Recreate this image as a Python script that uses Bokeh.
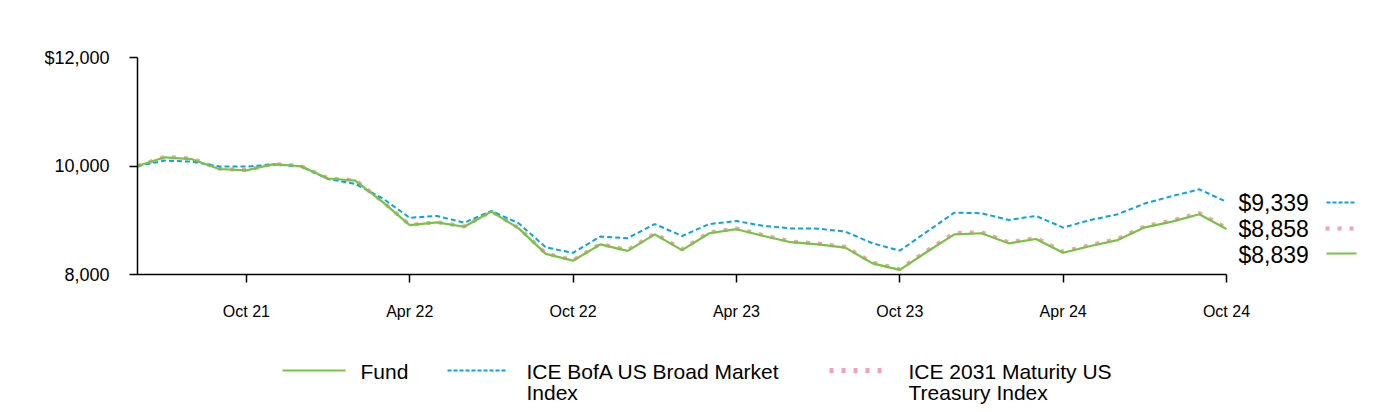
from bokeh.plotting import figure
from bokeh.layouts import column
from bokeh.models import Range1d, FixedTicker
from bokeh.core.properties import value
from bokeh.embed import file_html
from bokeh.resources import INLINE

# ---- data (Jun 2021 .. Oct 2024, monthly, growth of $10,000) ----
months = list(range(41))
fund = [10000, 10160, 10125, 9945, 9920, 10035, 9995, 9770, 9730, 9340, 8910,
        8960, 8880, 9160, 8850, 8380, 8255, 8555, 8435, 8740, 8450, 8760,
        8835, 8710, 8595, 8555, 8495, 8205, 8085, 8420, 8740, 8760, 8575,
        8655, 8400, 8525, 8635, 8870, 8975, 9110, 8839]
broad = [10000, 10100, 10080, 9990, 9990, 10025, 9995, 9760, 9670, 9405, 9045,
         9080, 8955, 9170, 8945, 8500, 8400, 8700, 8670, 8930, 8710, 8930,
         8985, 8895, 8850, 8845, 8790, 8575, 8440, 8790, 9140, 9130, 9005,
         9080, 8865, 9005, 9110, 9310, 9445, 9570, 9339]
treas = [10000, 10170, 10135, 9950, 9925, 10040, 10000, 9775, 9740, 9345, 8915,
         8965, 8885, 9165, 8860, 8390, 8265, 8565, 8450, 8755, 8465, 8775,
         8850, 8725, 8610, 8570, 8510, 8220, 8100, 8440, 8765, 8780, 8595,
         8675, 8420, 8545, 8655, 8890, 8995, 9135, 8858]
x_ticks = [4, 10, 16, 22, 28, 34, 40]
x_tick_labels = ["Oct 21", "Apr 22", "Oct 22", "Apr 23", "Oct 23", "Apr 24", "Oct 24"]
y_ticks = [8000, 10000, 12000]
y_tick_labels = ["8,000", "10,000", "$12,000"]
series_names = ["Fund", "ICE BofA US Broad Market\nIndex", "ICE 2031 Maturity US\nTreasury Index"]
end_labels = ["$9,339", "$8,858", "$8,839"]

GREEN = "#76C442"
BLUE = "#0AA4E0"
PINK = "#F6A0B4"
FONT = "Liberation Sans"

W = 1380
H1, H2 = 340, 64
BL, BT = 137, 57
FH = 217
AXIS_W = 1089            # pixel length of the 40-month axis
XMAX = 40 * (W - BL) / AXIS_W

p = figure(width=W, height=H1, output_backend="svg", toolbar_location=None,
           x_range=Range1d(0, XMAX), y_range=Range1d(8000, 12000),
           min_border_left=BL, min_border_right=0, min_border_top=BT,
           min_border_bottom=H1 - BT - FH)
p.outline_line_color = None
p.xgrid.visible = False
p.ygrid.visible = False

for ax in (p.xaxis[0], p.yaxis[0]):
    ax.axis_line_color = "black"
    ax.axis_line_width = 1.5
    ax.major_tick_line_color = "black"
    ax.major_tick_line_width = 1.5
    ax.major_tick_in = 0
    ax.major_tick_out = 8
    ax.minor_tick_line_color = None
    ax.major_label_text_font = FONT
    ax.major_label_text_color = "black"
    ax.major_label_standoff = 20

p.xaxis[0].bounds = (0, 40)
p.xaxis[0].ticker = FixedTicker(ticks=x_ticks)
p.xaxis[0].major_label_overrides = {t: l for t, l in zip(x_ticks, x_tick_labels)}
p.xaxis[0].major_label_text_font_size = "16px"
p.yaxis[0].ticker = FixedTicker(ticks=y_ticks)
p.yaxis[0].major_label_overrides = {t: l for t, l in zip(y_ticks, y_tick_labels)}
p.yaxis[0].major_label_text_font_size = "18px"

p.line(months, treas, line_color=PINK, line_width=4, line_dash="4 8")
p.line(months, broad, line_color=BLUE, line_width=2, line_dash="5 3")
p.line(months, fund, line_color=GREEN, line_width=2.2)

# canvas pixel -> data coords (placement of end labels in the right margin)
def dx(px):
    return (px - BL) / AXIS_W * 40

def dy(py):
    return 12000 - (py - BT) / FH * 4000

end_y = [202, 228, 254]
p.text(x=[dx(1238)] * 3, y=[dy(v) for v in end_y], text=end_labels,
       text_font=value(FONT), text_font_size="23px", text_align="left",
       text_baseline="middle", text_color="black")
p.line([dx(1326), dx(1356)], [dy(202)] * 2, line_color=BLUE, line_width=2, line_dash="4 2")
p.line([dx(1325), dx(1356)], [dy(228)] * 2, line_color=PINK, line_width=4, line_dash="4 8")
p.line([dx(1326), dx(1356)], [dy(253)] * 2, line_color=GREEN, line_width=2)

# ---- legend strip below (canvas pixel coordinates, y downward) ----
# column() aligns the frames, so give this strip the same left border
lg = figure(width=W, height=H2, output_backend="svg", toolbar_location=None,
            x_range=Range1d(BL, W), y_range=Range1d(H2, 0),
            x_axis_type=None, y_axis_type=None,
            min_border_left=BL, min_border_right=0, min_border_top=0, min_border_bottom=0)
lg.outline_line_color = None
lg.xgrid.visible = False
lg.ygrid.visible = False

r1 = 370 - H1
r2 = 392 - H1
lg.line([282, 345], [r1, r1], line_color=GREEN, line_width=2.2)
lg.line([447, 507], [r1, r1], line_color=BLUE, line_width=2, line_dash="4 2")
lg.line([829, 883], [r1, r1], line_color=PINK, line_width=5, line_dash="4 8")
lines_x, lines_y, lines_t = [], [], []
for name, x0 in zip(series_names, [360, 526, 908]):
    for k, part in enumerate(name.split("\n")):
        lines_x.append(x0)
        lines_y.append(r1 + 1 if k == 0 else r2)
        lines_t.append(part)
lg.text(x=lines_x, y=lines_y, text=lines_t, text_font=value(FONT),
        text_font_size="21px", text_align="left", text_baseline="middle",
        text_color="black")

layout = column(p, lg, spacing=0)
open("out.html", "w").write(file_html(layout, INLINE))
